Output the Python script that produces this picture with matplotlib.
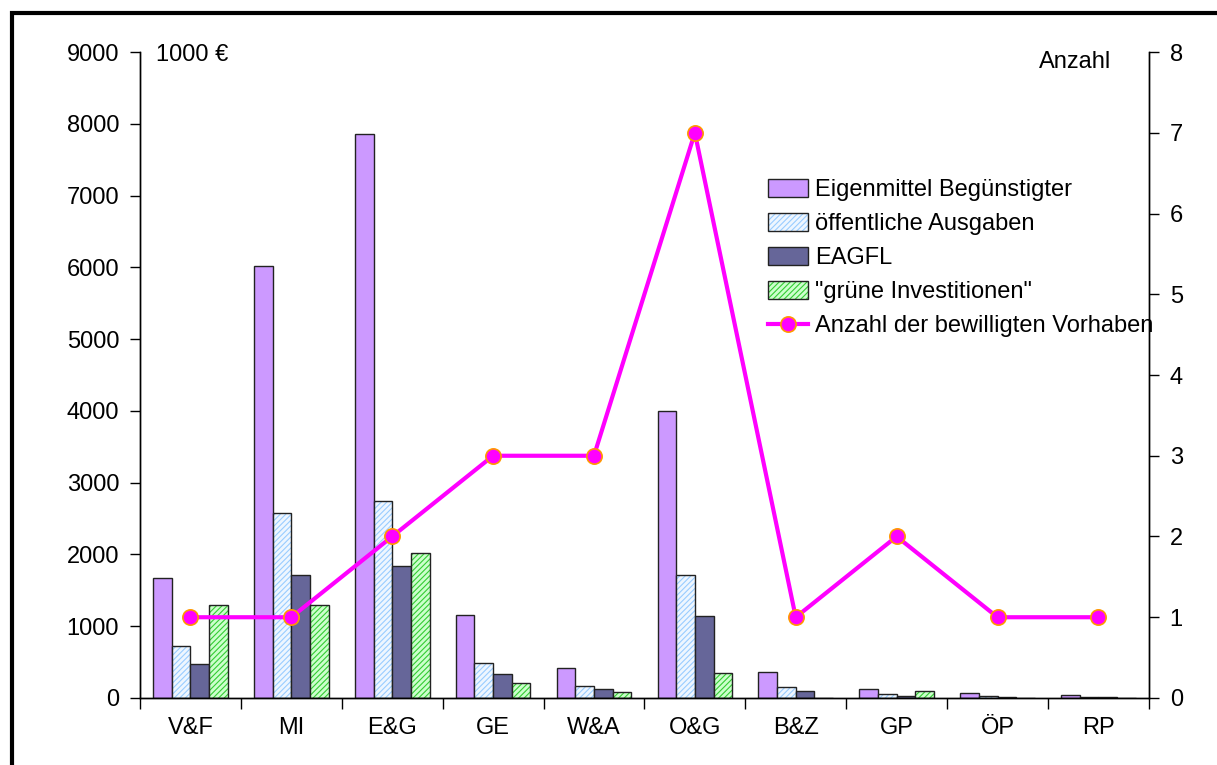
import matplotlib.pyplot as plt
import numpy as np
from matplotlib.patches import Rectangle
from matplotlib.legend_handler import HandlerTuple

plt.rcParams['font.family'] = ['Liberation Sans', 'DejaVu Sans']
plt.rcParams['hatch.linewidth'] = 0.8

categories = ['V&F', 'MI', 'E&G', 'GE', 'W&A', 'O&G', 'B&Z', 'GP', 'ÖP', 'RP']
eigenmittel = [1670, 6020, 7860, 1160, 420, 4000, 360, 130, 70, 40]
oeffentlich = [720, 2580, 2750, 490, 170, 1720, 160, 50, 30, 15]
eagfl = [480, 1720, 1840, 340, 120, 1140, 100, 30, 10, 15]
gruen = [1300, 1300, 2020, 210, 80, 350, 0, 100, 0, 0]
anzahl = [1, 1, 2, 3, 3, 7, 1, 2, 1, 1]

fig = plt.figure(figsize=(12.17, 7.65), dpi=100)
ax = fig.add_axes([0.115, 0.0876, 0.829, 0.8444])
ax2 = ax.twinx()

x = np.arange(len(categories))
w = 0.185
edge = '#222222'
fs = 17

b1 = ax.bar(x - 1.5 * w, eigenmittel, w, color='#CC99FF', edgecolor=edge, linewidth=1)
h2 = ax.bar(x - 0.5 * w, oeffentlich, w, color='#EEF6FF', edgecolor='#99CCFF',
            hatch='//////', linewidth=0)
o2 = ax.bar(x - 0.5 * w, oeffentlich, w, fill=False, edgecolor=edge, linewidth=1)
b3 = ax.bar(x + 0.5 * w, eagfl, w, color='#666699', edgecolor=edge, linewidth=1)
h4 = ax.bar(x + 1.5 * w, gruen, w, color='#CCFFCC', edgecolor='#33CC33',
            hatch='//////', linewidth=0)
o4 = ax.bar(x + 1.5 * w, gruen, w, fill=False, edgecolor=edge, linewidth=1)

line, = ax2.plot(x, anzahl, color='#FF00FF', linewidth=3,
                 marker='o', markersize=11, markerfacecolor='#FF00FF',
                 markeredgecolor='#FF9900', markeredgewidth=1.2)

ax.set_xlim(-0.5, len(categories) - 0.5)
ax.set_ylim(0, 9000)
ax2.set_ylim(0, 8)
ax.set_yticks(range(0, 9001, 1000))
ax2.set_yticks(range(0, 9))

ax.set_xticks(x)
ax.set_xticklabels(categories)
ax.set_xticks(np.arange(-0.5, len(categories), 1), minor=True)
ax.tick_params(axis='x', which='major', length=0, pad=14, labelsize=fs)
ax.tick_params(axis='x', which='minor', length=8, direction='out', width=1)
ax.tick_params(axis='y', length=7, width=1, labelsize=fs, pad=8)
ax2.tick_params(axis='y', length=7, width=1, labelsize=fs, pad=8)

for a in (ax, ax2):
    a.spines['top'].set_visible(False)
    for s in ('left', 'right', 'bottom'):
        a.spines[s].set_linewidth(1)

ax.text(0.016, 0.995, '1000 €', transform=ax.transAxes, fontsize=fs,
        ha='left', va='center')
ax2.text(0.963, 0.985, 'Anzahl', transform=ax.transAxes, fontsize=fs,
         ha='right', va='center')

handles = [b1, (h2, o2), b3, (h4, o4), line]
labels = ['Eigenmittel Begünstigter', 'öffentliche Ausgaben', 'EAGFL',
          '"grüne Investitionen"', 'Anzahl der bewilligten Vorhaben']
ax2.legend(handles, labels, loc='upper left', bbox_to_anchor=(0.613, 0.818),
           frameon=False, fontsize=fs, handlelength=1.7, handleheight=0.8,
           handletextpad=0.3, labelspacing=0.5, borderaxespad=0,
           handler_map={tuple: HandlerTuple(ndivide=1, pad=0)})

fig.patches.append(Rectangle((0.010, -0.05), 1.2, 1.033, transform=fig.transFigure,
                             fill=False, edgecolor='black', linewidth=3))

fig.savefig('out.png', dpi=100)
